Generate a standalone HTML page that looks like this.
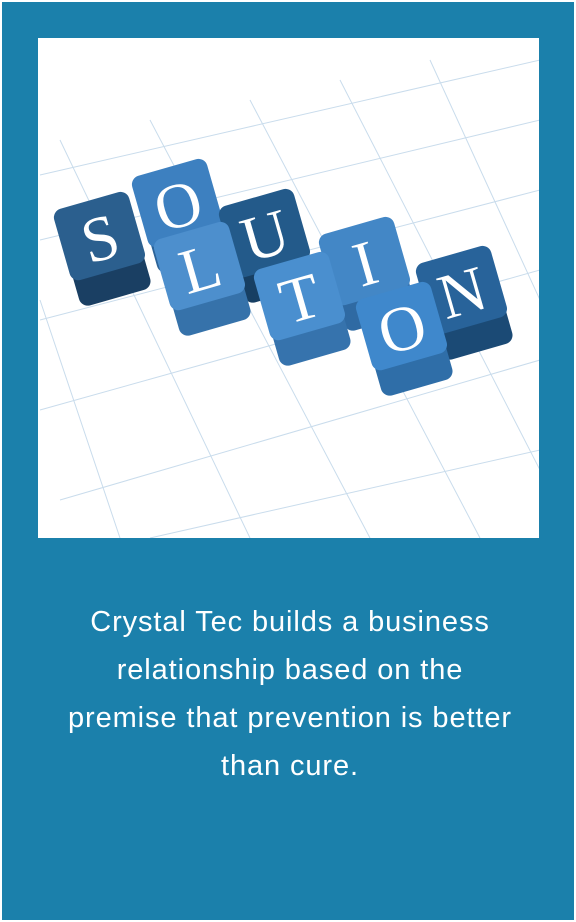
<!DOCTYPE html>
<html><head><meta charset="utf-8"><style>
html,body{margin:0;padding:0;background:#fff;}
#card{position:absolute;left:2px;top:2px;width:572px;height:918px;background:#1b80ab;}
#img{position:absolute;left:36px;top:36px;width:501px;height:500px;background:#fff;overflow:hidden;}
#txt{position:absolute;left:20px;top:596px;width:536px;text-align:center;color:#fff;font-family:"Liberation Sans",sans-serif;font-size:29px;line-height:48px;font-weight:normal;letter-spacing:0.9px;}
</style></head><body>
<div id="card">
<div id="img">
<svg width="501" height="500" viewBox="38 38 501 500">
<g stroke="#c9dcec" stroke-width="1" fill="none">
<path d="M40 175 L540 60 M40 240 L540 120 M40 320 L540 190 M40 410 L540 270 M60 500 L540 360 M150 538 L540 450"/>
<path d="M60 140 L250 538 M150 120 L370 538 M250 100 L480 538 M340 80 L540 470 M430 60 L540 300 M40 300 L120 538"/>
</g>
<g id="cubes"></g>
</svg>
</div>
<div id="txt">Crystal Tec builds a business<br>relationship based on the<br>premise that prevention is better<br>than cure.</div>
</div>
<script>
const letters=["S","O","U","I","N","L","T","O"];
const cx=[100,178,265,365,462,200,300,402];
const cy=[238,205,235,263,292,268,298,328];
const col=["#2b5f8e","#3d80c0","#235a8a","#4387c6","#28639a","#4d8fcd","#4a8fcf","#3f88cc"];
const side=["#1a3f63","#2c6398","#173f63","#2f6aa3","#1b4a75","#3672aa","#3673ad","#2f6ea8"];
const g=document.getElementById('cubes');
const ns="http://www.w3.org/2000/svg";
for(let i=0;i<letters.length;i++){
  const grp=document.createElementNS(ns,'g');
  
  
  grp.setAttribute('transform',`translate(${cx[i]},${cy[i]}) rotate(-16)`);
  const s=document.createElementNS(ns,'rect');
  s.setAttribute('x',-37);s.setAttribute('y',-28);s.setAttribute('width',74);s.setAttribute('height',90);
  s.setAttribute('rx',9);s.setAttribute('fill',side[i]);
  grp.appendChild(s);
  const t=document.createElementNS(ns,'rect');
  t.setAttribute('x',-39);t.setAttribute('y',-39);t.setAttribute('width',78);t.setAttribute('height',74);
  t.setAttribute('rx',9);t.setAttribute('fill',col[i]);
  grp.appendChild(t);
  const tx=document.createElementNS(ns,'text');
  tx.setAttribute('x',0);tx.setAttribute('y',22);tx.setAttribute('text-anchor','middle');
  tx.setAttribute('font-family','Liberation Serif, serif');tx.setAttribute('font-size','64');
  tx.setAttribute('fill','#fff');tx.textContent=letters[i];
  grp.appendChild(tx);
  g.appendChild(grp);
}
</script>
</body></html>
